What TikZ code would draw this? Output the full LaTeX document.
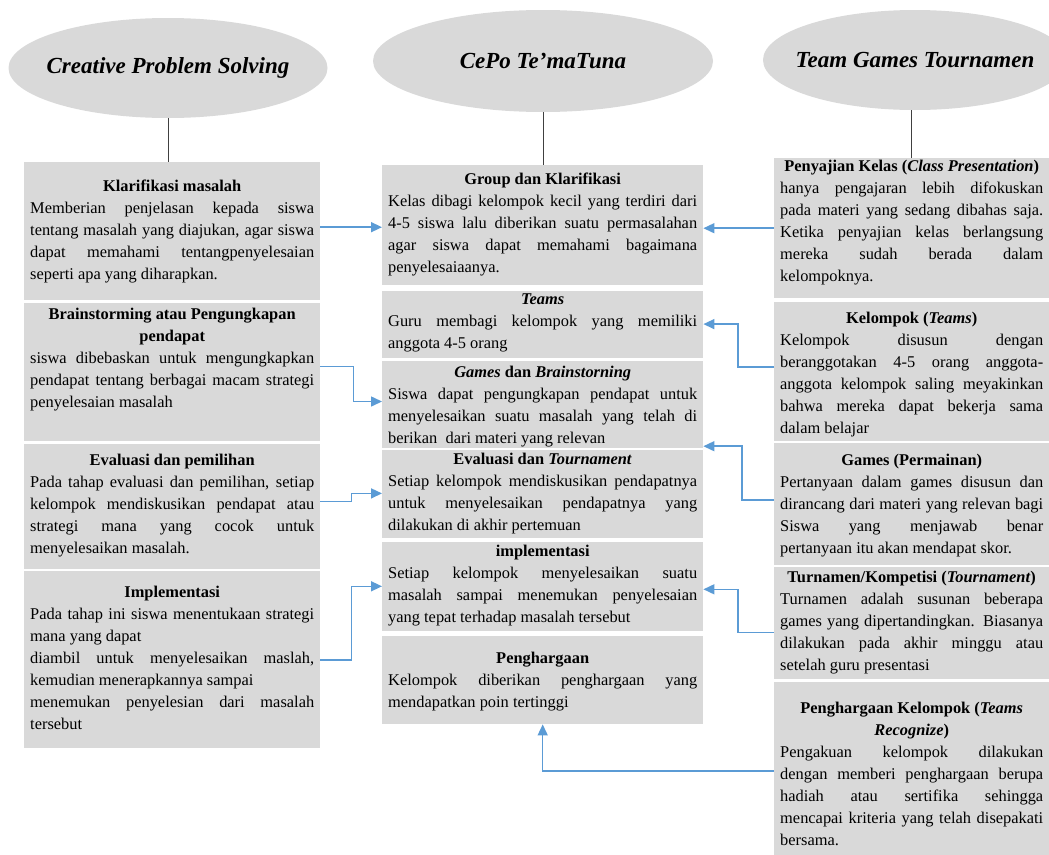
\documentclass[tikz,border=0pt]{standalone}
\usepackage{fontspec}
\setmainfont{Liberation Serif}
\usepackage{tikz}
\usetikzlibrary{positioning}
\usetikzlibrary{shapes,arrows.meta}

\definecolor{boxgray}{HTML}{D9D9D9}
\definecolor{linkblue}{HTML}{5B9BD5}
\definecolor{stemgray}{HTML}{404040}

\newcommand{\stagetext}[4]{\parbox[c][#1pt][t]{\linewidth}{\spaceskip=0pt\xspaceskip=0pt\rightskip=0pt\vspace*{#2pt}{\centering\bfseries #3\par}#4}}

\begin{document}
\begin{tikzpicture}[x=1pt, y=-1pt,
    head/.style={ellipse, fill=boxgray, inner sep=0pt, font=\fontsize{23}{27}\selectfont\bfseries\itshape},
    stage/.style={rectangle, fill=boxgray, inner xsep=6pt, inner ysep=0pt, anchor=north west, align=justify, font=\fontsize{16.4}{22}\selectfont},
    cpsbox/.style={stage, text width=284pt},
    tunabox/.style={stage, text width=309pt},
    tgtbox/.style={stage, text width=263pt},
    stem/.style={draw=stemgray, line width=1pt},
    link/.style={draw=linkblue, line width=1.5pt, -{Triangle[length=11pt,width=10pt]}}]
    \useasboundingbox (0,0) rectangle (1049,854);
    % Nodes
    \node [head, minimum width=319pt, minimum height=100pt] (cps) at (168,68) {\makebox[0pt]{Creative Problem Solving}};
    \node [head, minimum width=340pt, minimum height=102pt] (tuna) at (543,61) {\makebox[0pt]{CePo Te'maTuna}};
    \node [head, minimum width=304pt, minimum height=100pt] (tgt) at (915,60) {\makebox[0pt]{Team Games Tournamen}};

    \node [cpsbox] (cps1) at (24,162) {\stagetext{138}{18}{Klarifikasi masalah}{Memberian penjelasan kepada siswa\linebreak
      tentang masalah yang diajukan, agar siswa\linebreak
      dapat memahami tentangpenyelesaian\linebreak
      seperti apa yang diharapkan.}};
    \node [cpsbox, below=2pt of cps1] (cps2) {\stagetext{138}{6}{Brainstorming atau Pengungkapan\par pendapat}{siswa dibebaskan untuk mengungkapkan\linebreak
      pendapat tentang berbagai macam strategi\linebreak
      penyelesaian masalah}};
    \node [cpsbox, below=3pt of cps2] (cps3) {\stagetext{125}{10}{Evaluasi dan pemilihan}{Pada tahap evaluasi dan pemilihan, setiap\linebreak
      kelompok mendiskusikan pendapat atau\linebreak
      strategi mana yang cocok untuk\linebreak
      menyelesaikan masalah.}};
    \node [cpsbox, below=2pt of cps3] (cps4) {\stagetext{177}{15}{Implementasi}{Pada tahap ini siswa menentukaan strategi\linebreak
      mana yang dapat\newline
      diambil untuk menyelesaikan maslah,\linebreak
      kemudian menerapkannya sampai\newline
      menemukan penyelesian dari masalah\linebreak
      tersebut}};

    \node [tunabox] (tuna1) at (382,165) {\stagetext{120}{8}{Group dan Klarifikasi}{Kelas dibagi kelompok kecil yang terdiri dari\linebreak
      4-5 siswa lalu diberikan suatu permasalahan\linebreak
      agar siswa dapat memahami bagaimana\linebreak
      penyelesaiaanya.}};
    \node [tunabox, below=5pt of tuna1] (tuna2) {\stagetext{67}{3}{\itshape Teams}{Guru membagi kelompok yang memiliki\linebreak
      anggota 4-5 orang}};
    \node [tunabox, below=3pt of tuna2] (tuna3) {\stagetext{87}{5}{\textit{Games} dan \textit{Brainstorning}}{Siswa dapat pengungkapan pendapat untuk\linebreak
      menyelesaikan suatu masalah yang telah di\linebreak
      berikan\ \ dari materi yang relevan}};
    \node [tunabox, below=2pt of tuna3] (tuna4) {\stagetext{88}{3}{Evaluasi dan \textit{Tournament}}{Setiap kelompok mendiskusikan pendapatnya\linebreak
      untuk menyelesaikan pendapatnya yang\linebreak
      dilakukan di akhir pertemuan}};
    \node [tunabox, below=3pt of tuna4] (tuna5) {\stagetext{89}{3}{implementasi}{Setiap kelompok menyelesaikan suatu\linebreak
      masalah sampai menemukan penyelesaian\linebreak
      yang tepat terhadap masalah tersebut}};
    \node [tunabox, below=5pt of tuna5] (tuna6) {\stagetext{88}{16}{Penghargaan}{Kelompok diberikan penghargaan yang\linebreak
      mendapatkan poin tertinggi}};

    \node [tgtbox] (tgt1) at (774,158) {\stagetext{140}{2}{Penyajian Kelas (\textit{Class Presentation})}{hanya pengajaran lebih difokuskan\linebreak
      pada materi yang sedang dibahas saja.\linebreak
      Ketika penyajian kelas berlangsung\linebreak
      mereka sudah berada dalam\linebreak
      kelompoknya.}};
    \node [tgtbox, below=3pt of tgt1] (tgt2) {\stagetext{139}{11}{Kelompok (\textit{Teams})}{Kelompok disusun dengan\linebreak
      beranggotakan 4-5 orang anggota-\linebreak
      anggota kelompok saling meyakinkan\linebreak
      bahwa mereka dapat bekerja sama\linebreak
      dalam belajar}};
    \node [tgtbox, below=2pt of tgt2] (tgt3) {\stagetext{122}{11}{Games (Permainan)}{Pertanyaan dalam games disusun dan\linebreak
      dirancang dari materi yang relevan bagi\linebreak
      Siswa yang menjawab benar\linebreak
      pertanyaan itu akan mendapat skor.}};
    \node [tgtbox, below=2pt of tgt3] (tgt4) {\stagetext{112}{4}{Turnamen/Kompetisi (\textit{Tournament})}{Turnamen adalah susunan beberapa\linebreak
      games yang dipertandingkan. Biasanya\linebreak
      dilakukan pada akhir minggu atau\linebreak
      setelah guru presentasi}};
    \node [tgtbox, below=2pt of tgt4] (tgt5) {\stagetext{174}{20}{Penghargaan Kelompok (\textit{Teams}\par \textit{Recognize})}{Pengakuan kelompok dilakukan\linebreak
      dengan memberi penghargaan berupa\linebreak
      hadiah atau sertifika sehingga\linebreak
      mencapai kriteria yang telah disepakati\linebreak
      bersama.}};
    % Arrows
    \draw [stem] (cps.south) -- (cps.south |- cps1.north);
    \draw [stem] (tuna.south) -- (tuna.south |- tuna1.north);
    \draw [stem] (tgt1.north) -- (tgt1.north |- tgt.south);

    \draw [link] ([yshift=4pt]cps1.east) -- ([yshift=4pt]cps1.east -| tuna1.west);
    \draw [link] ([yshift=5pt]cps2.east) -- ++(33,0) |- ([yshift=3pt]tuna3.west);
    \draw [link] ([yshift=5pt]cps3.east) -- ++(31,0) |- ([yshift=1pt]tuna4.west);
    \draw [link] (cps4.east) -- ++(31,0) |- (tuna5.west);

    \draw [link] (tgt1.west) -- (tgt1.west -| tuna1.east);
    \draw [link] ([yshift=4pt]tgt2.west) -- ++(-36,0) |- (tuna2.east);
    \draw [link] ([yshift=4pt]tgt3.west) -- ++(-32,0) |- ([yshift=2pt]tuna3.south east);
    \draw [link] ([yshift=-9pt]tgt4.west) -- ++(-36,0) |- ([yshift=-3pt]tuna5.east);
    \draw [link] ([yshift=-2pt]tgt5.west) -| (tuna6.south);
\end{tikzpicture}
\end{document}
